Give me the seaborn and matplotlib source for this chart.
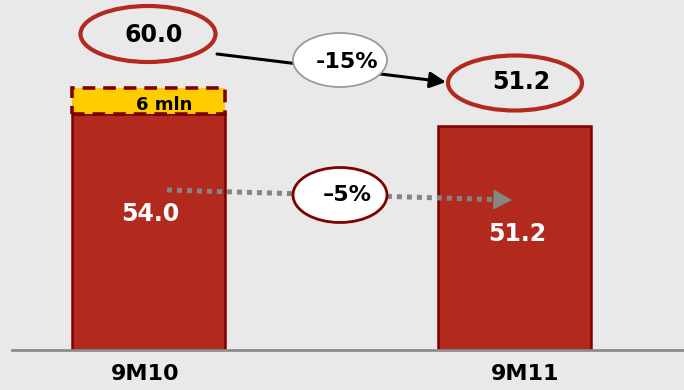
import matplotlib
matplotlib.use("Agg")
import matplotlib.pyplot as plt
import matplotlib.transforms as mtransforms
from matplotlib.patches import Ellipse
import seaborn as sns
import pandas as pd

# ---- data ----
categories = ["9M10", "9M11"]
reported = [54.0, 51.2]
adj_category = ["9M10"]
adjustment = [6.0]
adj_label = "6 mln"
totals = ["60.0", "51.2"]
change_total = "-15%"
change_reported = "\u20135%"

BG = "#E9E9E9"
RED = "#B22A1E"
DARKRED = "#7F0000"
YELLOW = "#FFCC00"

sns.set_style("white", {"axes.facecolor": BG, "figure.facecolor": BG})
plt.rcParams["font.family"] = ["DejaVu Sans"]

fig = plt.figure(figsize=(6.84, 3.90), dpi=100, facecolor=BG)
ax = fig.add_axes([12 / 684, 40 / 390, 672 / 684, 350 / 390])
ax.set_facecolor(BG)

YTOP = 80.0
X0 = -0.374
PXU = 366.0


def px(x, y):
    return (X0 + (x - 12) / PXU, (350 - y) / 350 * YTOP)


def wpx(w):
    return w / PXU


def hpx(h):
    return h * YTOP / 350


df = pd.DataFrame({"period": categories, "value": reported})
sns.barplot(data=df, x="period", y="value", order=categories, color=RED,
            saturation=1, width=0.418, edgecolor=DARKRED, linewidth=1.8,
            ax=ax, zorder=2)

dfa = pd.DataFrame({"period": adj_category, "value": adjustment})
sns.barplot(data=dfa, x="period", y="value", order=categories, color=YELLOW,
            saturation=1, width=0.418, edgecolor=DARKRED, linewidth=2.6,
            linestyle=(0, (3.5, 2.2)), bottom=[reported[0]], ax=ax, zorder=3)

ax.set_xlim(X0, X0 + 672 / PXU)
ax.set_ylim(0, YTOP)
ax.set_xlabel("")
ax.set_ylabel("")
ax.set_yticks([])
for s in ["top", "left", "right"]:
    ax.spines[s].set_visible(False)
ax.spines["bottom"].set_color("#8C8C8C")
ax.spines["bottom"].set_linewidth(2)
ax.spines["bottom"].set_zorder(4)
ax.tick_params(axis="x", length=0, pad=10)
ax.set_xticks(range(len(categories)))
ax.set_xticklabels(categories, fontsize=16, fontweight="bold", color="black")
offsets = [-4, 10]
for lab, off in zip(ax.get_xticklabels(), offsets):
    lab.set_transform(lab.get_transform() +
                      mtransforms.ScaledTranslation(off / 100, 0, fig.dpi_scale_trans))

# adjustment label
ax.text(*px(164, 105), adj_label, ha="center", va="center", fontsize=13,
        fontweight="bold", color="black", zorder=6)

# values inside bars
ax.text(*px(150, 214), f"{reported[0]:.1f}", ha="center", va="center",
        fontsize=17, fontweight="bold", color="white", zorder=6)
ax.text(*px(517, 234), f"{reported[1]:.1f}", ha="center", va="center",
        fontsize=17, fontweight="bold", color="white", zorder=6)

# black arrow total change
ax.annotate("", xy=px(446, 82), xytext=px(217, 54),
            arrowprops=dict(arrowstyle="-|>,head_length=0.6,head_width=0.3",
                            color="black", lw=2.2, shrinkA=0, shrinkB=0,
                            mutation_scale=16), zorder=4)

# gray dotted arrow
x1, y1 = px(167, 190)
x2, y2 = px(497, 199.6)
ax.plot([x1, x2], [y1, y2], color="#858585", lw=3.6,
        linestyle=(0, (1.0, 1.0)), dash_capstyle="butt", zorder=4)
ax.annotate("", xy=px(512, 200), xytext=px(494, 199.5),
            arrowprops=dict(arrowstyle="-|>,head_length=0.7,head_width=0.38",
                            color="#858585", lw=0.5, shrinkA=0, shrinkB=0,
                            mutation_scale=18), zorder=4)

# ellipses
def ellipse(cx, cy, w, h, face, edge, lw):
    e = Ellipse(px(cx, cy), wpx(w), hpx(h), facecolor=face, edgecolor=edge,
                linewidth=lw, zorder=5)
    ax.add_patch(e)


ellipse(148, 34, 135, 56, "none", "#B3291E", 3.0)
ellipse(515, 83, 134, 55, "none", "#B3291E", 3.0)
ellipse(340, 60, 94, 54, "white", "#9A9A9A", 1.3)
ellipse(340, 195, 94, 55, "white", DARKRED, 2.0)

ax.text(*px(154, 35), totals[0], ha="center", va="center", fontsize=17,
        fontweight="bold", color="black", zorder=6)
ax.text(*px(521, 82), totals[1], ha="center", va="center", fontsize=17,
        fontweight="bold", color="black", zorder=6)
ax.text(*px(347, 62), change_total, ha="center", va="center", fontsize=16,
        fontweight="bold", color="black", zorder=6)
ax.text(*px(347, 195), change_reported, ha="center", va="center", fontsize=16,
        fontweight="bold", color="black", zorder=6)

fig.savefig("out.png", dpi=100, facecolor=BG)
